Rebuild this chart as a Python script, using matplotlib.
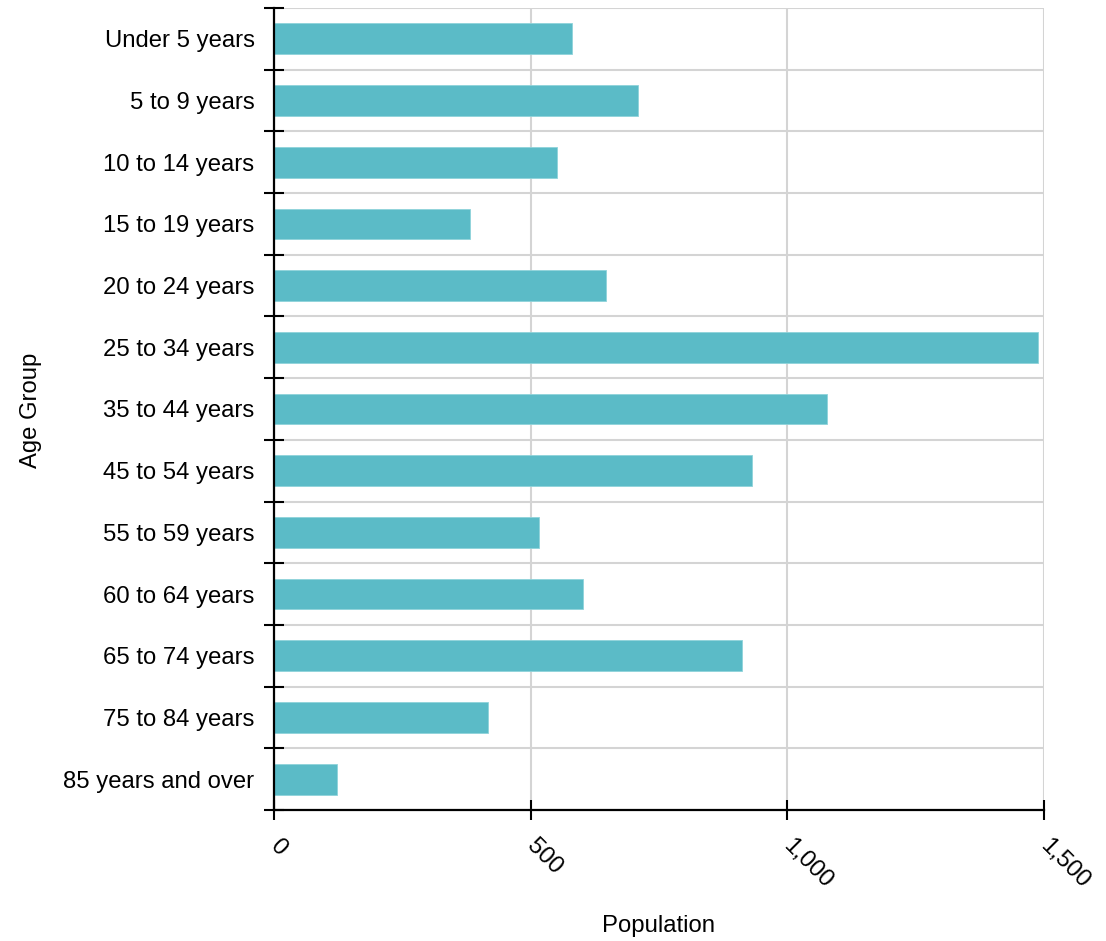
import matplotlib
matplotlib.use("Agg")
import matplotlib.pyplot as plt
from matplotlib.ticker import FuncFormatter
import matplotlib.transforms as mtransforms
import numpy as np

plt.rcParams['font.family'] = ['Liberation Sans', 'DejaVu Sans']

# 연령대별 인구
age_groups = ["Under 5 years", "5 to 9 years", "10 to 14 years", "15 to 19 years",
              "20 to 24 years", "25 to 34 years", "35 to 44 years", "45 to 54 years",
              "55 to 59 years", "60 to 64 years", "65 to 74 years", "75 to 84 years",
              "85 years and over"]
population = [580, 709, 551, 381, 646, 1488, 1078, 931, 516, 601, 912, 416, 122]
x_ticks = [0, 500, 1000, 1500]

bar_color = '#5bbbc7'
grid_color = '#d4d4d4'
fs = 17.2

fig = plt.figure(figsize=(11.06, 9.41), dpi=100)
ax = fig.add_axes([274 / 1106, 1 - 810 / 941, 770 / 1106, 802 / 941])

pos = np.arange(len(age_groups))
ax.barh(pos, population, height=0.5, color=bar_color, edgecolor='#8fd3da', linewidth=0.6, zorder=3)

ax.set_xlim(0, 1500)
ax.set_ylim(len(age_groups) - 0.5, -0.5)

# y축: 라벨은 중앙, 눈금/격자는 경계
ax.set_yticks(pos)
ax.set_yticklabels(age_groups, fontsize=fs)
ax.set_yticks(np.arange(-0.5, len(age_groups), 1), minor=True)
ax.tick_params(axis='y', which='major', length=0, pad=14)
ax.tick_params(axis='y', which='minor', direction='inout', length=13.7, width=1.5, color='black')

ax.set_xticks(x_ticks)
ax.xaxis.set_major_formatter(FuncFormatter(lambda v, p: f"{int(v):,}"))
ax.tick_params(axis='x', direction='inout', length=13.7, width=1.5, pad=8, labelsize=fs)
offset = mtransforms.ScaledTranslation(7 / 100, -4 / 100, fig.dpi_scale_trans)
for lbl in ax.get_xticklabels():
    lbl.set_rotation(-45)
    lbl.set_ha('left')
    lbl.set_va('top')
    lbl.set_rotation_mode('anchor')
    lbl.set_transform(lbl.get_transform() + offset)

ax.grid(axis='x', which='major', color=grid_color, linewidth=1.5, zorder=0)
ax.grid(axis='y', which='minor', color=grid_color, linewidth=1.5, zorder=0)
ax.set_axisbelow(True)

for s in ['top', 'right']:
    ax.spines[s].set_visible(False)
for s in ['left', 'bottom']:
    ax.spines[s].set_linewidth(1.6)
    ax.spines[s].set_zorder(4)

fig.text(659 / 1106, 1 - 926 / 941, "Population", ha='center', va='center', fontsize=fs)
fig.text(31 / 1106, 1 - 410 / 941, "Age Group", ha='center', va='center', rotation=90, fontsize=fs)

fig.savefig("out.png", dpi=100)
